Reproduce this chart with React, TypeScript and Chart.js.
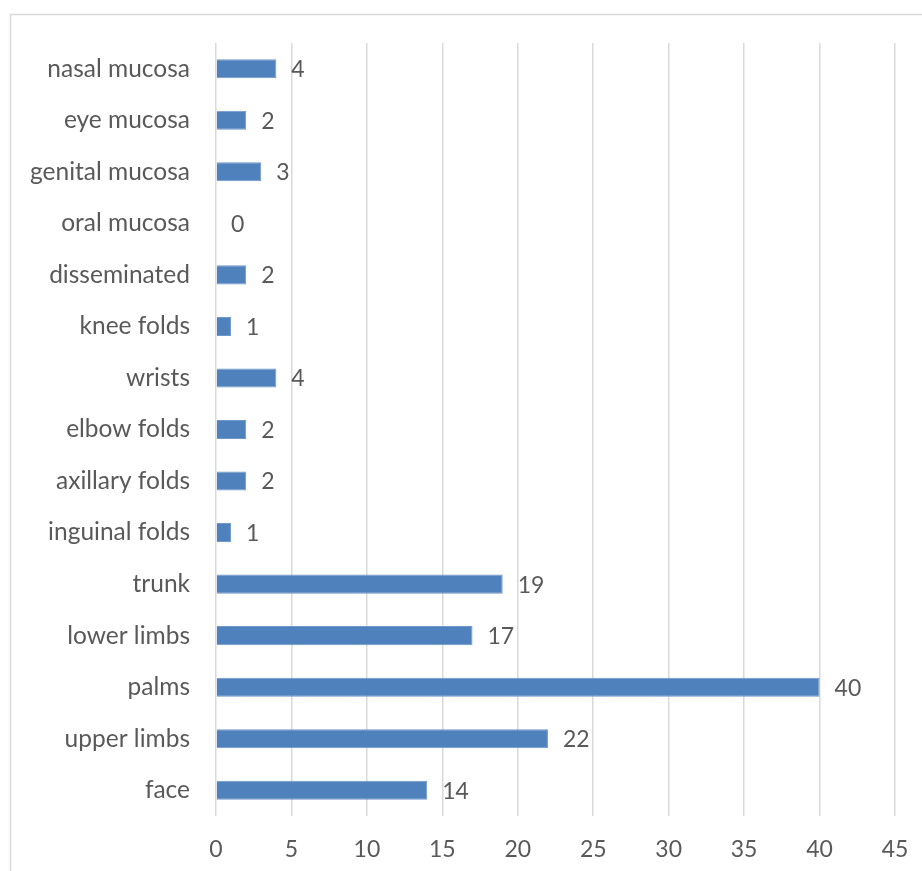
import React, { useEffect, useRef } from "react";
import { Chart, registerables } from "chart.js";

Chart.register(...registerables);

const categories = [
  "nasal mucosa",
  "eye mucosa",
  "genital mucosa",
  "oral mucosa",
  "disseminated",
  "knee folds",
  "wrists",
  "elbow folds",
  "axillary folds",
  "inguinal folds",
  "trunk",
  "lower limbs",
  "palms",
  "upper limbs",
  "face",
];

const counts = [4, 2, 3, 0, 2, 1, 4, 2, 2, 1, 19, 17, 40, 22, 14];

const xTicks = [0, 5, 10, 15, 20, 25, 30, 35, 40, 45];

const FONT = "Lato, 'Open Sans', sans-serif";
const TEXT = "#595959";
const SIZE = 24.5;

// Value labels to the right of each bar end
const valueLabels = {
  id: "valueLabels",
  afterDatasetsDraw(chart: any) {
    const { ctx } = chart;
    const meta = chart.getDatasetMeta(0);
    ctx.save();
    ctx.font = `${SIZE - 1.5}px ${FONT}`;
    ctx.fillStyle = TEXT;
    ctx.textAlign = "left";
    ctx.textBaseline = "middle";
    meta.data.forEach((bar: any, i: number) => {
      ctx.fillText(String(counts[i]), bar.x + 15, bar.y + 1);
    });
    ctx.restore();
  },
};

// Outer frame around the chart
const frame = {
  id: "frame",
  beforeDraw(chart: any) {
    const { ctx } = chart;
    ctx.save();
    ctx.strokeStyle = "#d9d9d9";
    ctx.lineWidth = 1.5;
    ctx.strokeRect(10.5, 14.5, 1000, 1000);
    ctx.restore();
  },
};

export default function App() {
  const ref = useRef<HTMLCanvasElement>(null);

  useEffect(() => {
    if (!ref.current) return;
    const chart = new Chart(ref.current, {
      type: "bar",
      data: {
        labels: categories,
        datasets: [
          {
            data: counts,
            backgroundColor: "#4f81bd",
            borderColor: "#6f97c9",
            borderWidth: 1,
            barPercentage: 0.74,
            categoryPercentage: 0.5,
          },
        ],
      },
      options: {
        indexAxis: "y",
        animation: false,
        responsive: false,
        maintainAspectRatio: false,
        layout: { padding: { left: 0, right: 27, top: 43, bottom: 0 } },
        plugins: {
          legend: { display: false },
          tooltip: { enabled: false },
        },
        scales: {
          x: {
            min: 0,
            max: 45,
            afterBuildTicks: (scale: any) => {
              scale.ticks = xTicks.map((v) => ({ value: v }));
            },
            afterFit: (scale: any) => {
              scale.height = 55;
              scale.paddingLeft = 0;
              scale.paddingRight = 0;
            },
            grid: {
              color: "#d9d9d9",
              lineWidth: 1.5,
              drawTicks: false,
            },
            border: { display: false },
            ticks: {
              padding: 20,
              color: TEXT,
              font: { family: FONT, size: SIZE - 1.5 },
              maxRotation: 0,
            },
          },
          y: {
            afterFit: (scale: any) => {
              scale.width = 216;
              scale.paddingTop = 0;
              scale.paddingBottom = 0;
            },
            grid: { display: false, drawTicks: false },
            border: { display: false },
            ticks: {
              padding: 26,
              color: TEXT,
              font: { family: FONT, size: SIZE },
            },
          },
        },
      },
      plugins: [frame, valueLabels],
    });
    return () => chart.destroy();
  }, []);

  return (
    <div style={{ position: "fixed", left: 0, top: 0, width: 922, height: 871, overflow: "hidden", background: "#fff" }}>
      <canvas ref={ref} width={922} height={871} style={{ display: "block" }} />
    </div>
  );
}
